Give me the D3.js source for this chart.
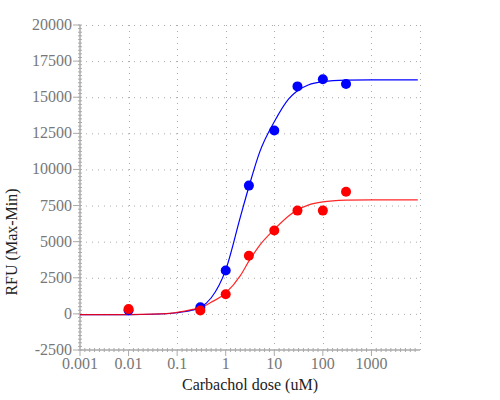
<!DOCTYPE html>
<html>
<head>
<meta charset="utf-8">
<script src="https://cdn.jsdelivr.net/npm/d3@7"></script>
<style>
  body { margin: 0; background: #fff; }
</style>
</head>
<body>
<div class="chart"></div>
<script>
var margin = {top: 25, right: 80, bottom: 50, left: 80};
var w = 500;
var h = 400;

// measured points
var doses = [0.01, 0.3, 1, 3, 10, 30, 100, 300];
var blueVals = [250, 460, 3000, 8880, 12700, 15750, 16250, 15920];
var redVals = [330, 230, 1360, 4020, 5770, 7150, 7150, 8450];

// fitted curves
var curveDoses = [0.001, 0.01, 0.03, 0.1, 0.2, 0.3, 0.5, 1, 2, 3, 5, 10, 20, 30, 50, 100, 300, 1000, 9000];
var blueCurve = [-50, -45, -25, 80, 250, 450, 1100, 3050, 6700, 8800, 11200, 13300, 14900, 15450, 15850, 16080, 16180, 16200, 16200];
var redCurve = [-50, -45, -20, 110, 300, 430, 800, 1450, 2650, 3650, 4750, 5850, 6800, 7200, 7530, 7750, 7870, 7900, 7900];

var xTicks = [0.001, 0.01, 0.1, 1, 10, 100, 1000];
var xTickLabels = ["0.001", "0.01", "0.1", "1", "10", "100", "1000"];
var xGrid = [0.01, 0.1, 1, 10, 100, 1000, 10000];
var yTicks = [-2500, 0, 2500, 5000, 7500, 10000, 12500, 15000, 17500, 20000];

var font = "Liberation Serif";

var svg = d3.select(".chart")
            .append("svg")
            .attr("width", w)
            .attr("height", h);

var xScale = d3.scaleLog()
    .domain([0.001, 10000])
    .range([margin.left, w - margin.right]);

var yScale = d3.scaleLinear()
    .domain([-2500, 20000])
    .range([h - margin.bottom, margin.top]);

var axisColor = "#aaa";
var labelColor = "#777";

// grid
svg.selectAll(".hgrid")
   .data(yTicks.filter(function (d) { return d > -2500; }))
   .enter()
   .append("line")
   .attr("x1", margin.left)
   .attr("x2", w - margin.right)
   .attr("y1", function (d) { return yScale(d) + 0.5; })
   .attr("y2", function (d) { return yScale(d) + 0.5; })
   .attr("stroke", "#aaa")
   .attr("stroke-dasharray", "1,5");

svg.selectAll(".vgrid")
   .data(xGrid)
   .enter()
   .append("line")
   .attr("x1", function (d) { return Math.round(xScale(d)) + 0.5; })
   .attr("x2", function (d) { return Math.round(xScale(d)) + 0.5; })
   .attr("y1", margin.top)
   .attr("y2", h - margin.bottom)
   .attr("stroke", "#aaa")
   .attr("stroke-dasharray", "1,5");

// minor ticks
var xMinor = [];
for (var k = -3; k < 4; k++) {
  for (var i = 1; i < 10; i++) xMinor.push(Math.pow(10, k + i / 10));
}
var yMinor = d3.range(-2500, 20001, 250);

var yBase = h - margin.bottom;
svg.selectAll(".xminor")
   .data(xMinor)
   .enter()
   .append("line")
   .attr("x1", function (d) { return xScale(d); })
   .attr("x2", function (d) { return xScale(d); })
   .attr("y1", yBase - 2)
   .attr("y2", yBase + 2)
   .attr("stroke", axisColor);

svg.selectAll(".yminor")
   .data(yMinor)
   .enter()
   .append("line")
   .attr("x1", margin.left - 2)
   .attr("x2", margin.left + 2)
   .attr("y1", function (d) { return yScale(d); })
   .attr("y2", function (d) { return yScale(d); })
   .attr("stroke", axisColor);

// axis lines
svg.append("line")
   .attr("x1", margin.left).attr("x2", w - margin.right)
   .attr("y1", yBase).attr("y2", yBase)
   .attr("stroke", axisColor).attr("stroke-width", 1.5);
svg.append("line")
   .attr("x1", margin.left).attr("x2", margin.left)
   .attr("y1", margin.top).attr("y2", yBase)
   .attr("stroke", axisColor).attr("stroke-width", 1.5);

// major ticks + labels
svg.selectAll(".xmajor")
   .data(xTicks)
   .enter()
   .append("line")
   .attr("x1", function (d) { return xScale(d); })
   .attr("x2", function (d) { return xScale(d); })
   .attr("y1", yBase)
   .attr("y2", yBase + 6)
   .attr("stroke", axisColor);

svg.selectAll(".xlabel")
   .data(xTicks)
   .enter()
   .append("text")
   .text(function (d, i) { return xTickLabels[i]; })
   .attr("x", function (d) { return xScale(d); })
   .attr("y", yBase + 19)
   .attr("text-anchor", "middle")
   .attr("font-family", font)
   .attr("font-size", 16)
   .attr("fill", labelColor);

svg.selectAll(".ymajor")
   .data(yTicks)
   .enter()
   .append("line")
   .attr("x1", margin.left - 7)
   .attr("x2", margin.left)
   .attr("y1", function (d) { return yScale(d); })
   .attr("y2", function (d) { return yScale(d); })
   .attr("stroke", axisColor);

svg.selectAll(".ylabel")
   .data(yTicks)
   .enter()
   .append("text")
   .text(function (d) { return d; })
   .attr("x", margin.left - 8)
   .attr("y", function (d) { return yScale(d) + 5; })
   .attr("text-anchor", "end")
   .attr("font-family", font)
   .attr("font-size", 16)
   .attr("fill", labelColor);

// axis titles
svg.append("text")
   .text("Carbachol dose (uM)")
   .attr("x", 250)
   .attr("y", 390)
   .attr("text-anchor", "middle")
   .attr("font-family", font)
   .attr("font-size", 16)
   .attr("fill", "#222");

svg.append("text")
   .text("RFU (Max-Min)")
   .attr("transform", "translate(17,242) rotate(-90)")
   .attr("text-anchor", "middle")
   .attr("font-family", font)
   .attr("font-size", 16)
   .attr("fill", "#222");

// curves
var line = d3.line()
    .x(function (d) { return xScale(d[0]); })
    .y(function (d) { return yScale(d[1]); })
    .curve(d3.curveMonotoneX);

svg.append("path")
   .attr("d", line(d3.zip(curveDoses, blueCurve)))
   .attr("fill", "none")
   .attr("stroke", "blue")
   .attr("stroke-width", 1.2);

svg.append("path")
   .attr("d", line(d3.zip(curveDoses, redCurve)))
   .attr("fill", "none")
   .attr("stroke", "red")
   .attr("stroke-width", 1.2)
   .attr("stroke-opacity", 0.85);

// points
svg.selectAll(".blueDot")
   .data(d3.zip(doses, blueVals))
   .enter()
   .append("circle")
   .attr("cx", function (d) { return xScale(d[0]); })
   .attr("cy", function (d) { return yScale(d[1]); })
   .attr("r", 5)
   .attr("fill", "blue");

svg.selectAll(".redDot")
   .data(d3.zip(doses, redVals))
   .enter()
   .append("circle")
   .attr("cx", function (d) { return xScale(d[0]); })
   .attr("cy", function (d) { return yScale(d[1]); })
   .attr("r", 5)
   .attr("fill", "red");
</script>
</body>
</html>
